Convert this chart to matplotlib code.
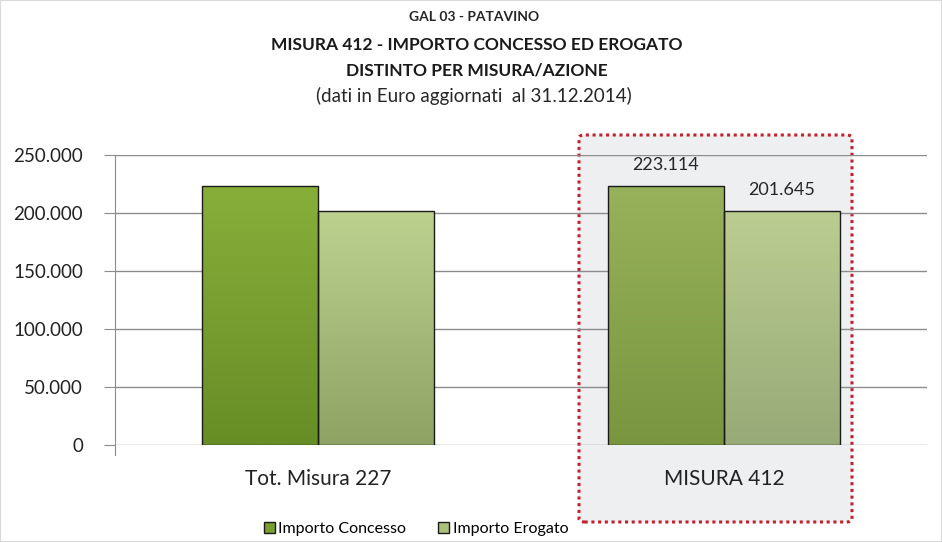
import numpy as np
import matplotlib
matplotlib.use('Agg')
import matplotlib.pyplot as plt
from matplotlib.patches import Patch, FancyBboxPatch
from matplotlib.colors import LinearSegmentedColormap
from matplotlib.ticker import FuncFormatter

plt.rcParams['font.family'] = ['Lato', 'DejaVu Sans']

categories = ['Tot. Misura 227', 'MISURA 412']
series_names = ['Importo Concesso', 'Importo Erogato']
concesso = [223114, 223114]
erogato = [201645, 201645]
yticks = [0, 50000, 100000, 150000, 200000, 250000]

# gradient colours (top, bottom); second group sits under the grey highlight box
grad_conc = [('#88ae3a', '#678e26'), ('#97b25a', '#79953f')]
grad_erog = [('#bdd18f', '#8ea265'), ('#bccd92', '#97aa77')]

def fmt(v):
    return f'{int(v):,}'.replace(',', '.')

fig = plt.figure(figsize=(9.42, 5.42), dpi=100)
fig.patch.set_facecolor('white')

# highlight box around MISURA 412 (behind the axes)
box = FancyBboxPatch((579 / 942, 20 / 542), 273 / 942, 387 / 542,
                     boxstyle='round,pad=0,rounding_size=0.006',
                     transform=fig.transFigure, facecolor='#eeeff1',
                     edgecolor='#c3202c', linestyle=(0, (1, 1.2)), linewidth=2.2,
                     zorder=-5)
fig.patches.append(box)

ax = fig.add_axes([115 / 942, 97 / 542, 812 / 942, 290 / 542])
ax.set_facecolor('none')
ax.set_zorder(1)

x = np.arange(len(categories))
w = 0.286
bars_c = ax.bar(x - w / 2, concesso, w, facecolor='none', edgecolor='#1a1a1a', linewidth=1.0, zorder=4)
bars_e = ax.bar(x + w / 2, erogato, w, facecolor='none', edgecolor='#1a1a1a', linewidth=1.0, zorder=4)

def fill_gradient(bar, top, bottom):
    cmap = LinearSegmentedColormap.from_list('g', [bottom, top])
    grad = np.linspace(0, 1, 256).reshape(-1, 1)
    x0, y0 = bar.get_x(), bar.get_y()
    ax.imshow(grad, cmap=cmap, aspect='auto', origin='lower',
              extent=[x0, x0 + bar.get_width(), y0, y0 + bar.get_height()], zorder=3)

for i, b in enumerate(bars_c):
    fill_gradient(b, *grad_conc[i])
for i, b in enumerate(bars_e):
    fill_gradient(b, *grad_erog[i])

# value labels only on MISURA 412
ax.text(x[1] - w / 2, concesso[1] + 11500, fmt(concesso[1]),
        ha='center', va='bottom', fontsize=13, color='#262626', zorder=5)
ax.text(x[1] + w / 2, erogato[1] + 11500, fmt(erogato[1]),
        ha='center', va='bottom', fontsize=13, color='#262626', zorder=5)

ax.set_xlim(-0.5, 1.5)
ax.set_ylim(0, 250000)
ax.set_yticks(yticks)
ax.yaxis.set_major_formatter(FuncFormatter(lambda v, p: fmt(v)))
ax.set_xticks(x)
ax.set_xticklabels(categories)
ax.grid(axis='y', color='#8c8c8c', linewidth=1.0, zorder=1)
ax.set_axisbelow(True)
for s in ['top', 'right', 'bottom']:
    ax.spines[s].set_visible(False)
ax.spines['left'].set_color('#8c8c8c')
ax.spines['left'].set_bounds(-9000, 250000)
ax.tick_params(axis='y', length=8, color='#8c8c8c', labelsize=13.5, labelcolor='#222222', pad=15)
ax.tick_params(axis='x', length=0, labelsize=15, labelcolor='#222222', pad=17)

# titles
fig.text(0.503, 1 - 17 / 542, 'GAL 03 - PATAVINO', ha='center', va='center',
         fontsize=10, fontweight='bold', color='#262626')
fig.text(0.506, 1 - 45 / 542, 'MISURA 412 - IMPORTO CONCESSO ED EROGATO', ha='center', va='center',
         fontsize=12.5, fontweight='bold', color='#1a1a1a')
fig.text(0.506, 1 - 70 / 542, 'DISTINTO PER MISURA/AZIONE', ha='center', va='center',
         fontsize=12.5, fontweight='bold', color='#1a1a1a')
fig.text(0.503, 1 - 96 / 542, '(dati in Euro aggiornati  al 31.12.2014)', ha='center', va='center',
         fontsize=13.5, color='#262626')

handles = [Patch(facecolor='#78a031', edgecolor='#1a1a1a', label=series_names[0]),
           Patch(facecolor='#a9bf7a', edgecolor='#1a1a1a', label=series_names[1])]
fig.legend(handles=handles, loc='center', bbox_to_anchor=(416 / 942, 1 - 529 / 542), ncol=2,
           frameon=False, fontsize=11.5, handlelength=0.7, handleheight=0.7,
           handletextpad=0.2, columnspacing=2.0, borderaxespad=0, borderpad=0)

# light outer frame
fig.patches.append(plt.Rectangle((0, 0), 1, 1, transform=fig.transFigure, fill=False,
                                 edgecolor='#d9d9d9', linewidth=1.5))

fig.savefig('out.png', dpi=100)
